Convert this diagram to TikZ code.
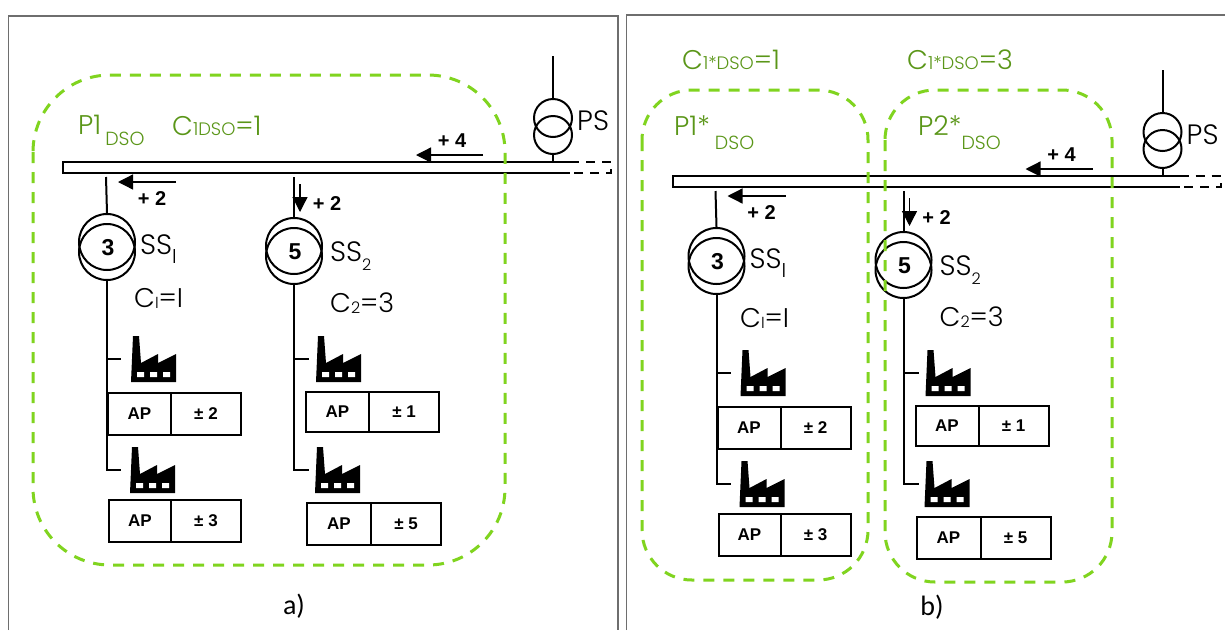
\documentclass[tikz,border=0pt]{standalone}
\usepackage{fontspec}
\setmainfont{Poppins}[UprightFont=* Light]
\newfontfamily\arialf{Liberation Sans}[BoldFont=* Bold]
\newfontfamily\calf{Carlito}
\usetikzlibrary{arrows.meta}
\definecolor{dsogreen}{HTML}{80D41F}
\definecolor{dsotext}{HTML}{5A9618}
\definecolor{framegray}{HTML}{6E6E6E}
\newcommand{\fs}[1]{\fontsize{#1}{#1}\selectfont}
\newcommand{\lowtxt}[3]{\raisebox{-#1pt}{\fs{#2}#3}}
\tikzset{
  x=1pt,y=-1pt,
  frameline/.style={draw=framegray,line width=1.2pt},
  region/.style={draw=dsogreen,line width=3pt,dash pattern=on 11pt off 9pt,rounded corners=#1},
  wire/.style={draw=black,line width=2pt},
  xfmr/.style={circle,draw=black,line width=2pt,minimum size=#1,inner sep=0pt},
  flow/.style={draw=black,line width=1.3pt,-{Triangle[length=15pt,width=15pt]}},
  boldlab/.style={font=\arialf\bfseries\fs{20},inner sep=0pt,text=black},
  numlab/.style={font=\arialf\bfseries\fs{23},inner sep=0pt,text=black},
  cell/.style={draw=black,line width=2pt,minimum height=#1,inner sep=0pt,font=\arialf\bfseries\fs{17}},
  blacklab/.style={font=\fs{28},inner sep=0pt,anchor=base west,text=black},
  clab/.style={font=\fs{27},inner sep=0pt,anchor=base west,text=black},
  greenlab/.style={font=\fs{27},inner sep=0pt,anchor=base west,text=dsotext},
  caption/.style={font=\calf\fs{28},inner sep=0pt,text=black},
}
% factory: #1 left x, #2 top y
\newcommand{\factory}[2]{%
  \begin{scope}[shift={(#1,#2)}]
    \fill[black] (0,46) -- (2,0) -- (8,0) -- (10,27) -- (27,18) -- (27,27) -- (45,18) -- (45,46) -- cycle;
    \fill[white] (6,36) rectangle (13,41) (19,36) rectangle (26,41) (32,36) rectangle (39,41);
  \end{scope}}
% cells: #1 name, #2 left, #3 divider, #4 right, #5 top, #6 bottom, #7 text
\newcommand{\apbox}[7]{%
  \pgfmathsetmacro{\wa}{#3-#2}\pgfmathsetmacro{\wb}{#4-#3}\pgfmathsetmacro{\hh}{#6-#5}
  \node[cell=\hh pt,minimum width=\wa pt,anchor=north west] (#1a) at (#2,#5) {AP};
  \node[cell=\hh pt,minimum width=\wb pt,anchor=north west] (#1b) at (#3,#5) {#7};}
% #1: position of the C1 label
\newcommand{\panelcore}[1]{%
  % bus
  \draw[wire] (570,162) -- (63,162) -- (63,173) -- (570,173);
  \draw[wire,dash pattern=on 9pt off 7pt] (570,162) -- (611,162) -- (611,173) -- (570,173);
  % PS
  \node[xfmr=38pt] (pst) at (553,118) {};
  \node[xfmr=38pt] (psb) at (553,135) {};
  \coordinate (psin) at (553,56);
  \coordinate (psbus) at (553,162);
  \draw[wire] (psin) -- (pst.north);
  \draw[wire] (psb.south) -- (psbus);
  \node[blacklab] (pslab) at (577,130) {PS};
  % flow +4
  \coordinate (f4a) at (483,155); \coordinate (f4b) at (416,155);
  \draw[flow] (f4a) -- (f4b);
  \node[boldlab] (f4l) at (452,141) {+ 4};
  % SS1
  \node[xfmr=56pt] (s1t) at (107,242) {};
  \node[xfmr=56pt] (s1b) at (107,252) {};
  \node[numlab] (s1n) at (108,248) {3};
  \coordinate (s1in) at (106,177);
  \coordinate (s1k) at (107,359);
  \coordinate (s1e) at (107,470);
  \coordinate (s1s1) at (121,359);
  \coordinate (s1s2) at (121,470);
  \draw[wire] (s1in) -- (s1t.north);
  \draw[wire] (s1b.south) -- (s1e) -- (s1s2);
  \draw[wire] (s1k) -- (s1s1);
  \coordinate (f1a) at (176,182); \coordinate (f1b) at (118,182);
  \draw[flow] (f1a) -- (f1b);
  \node[boldlab] (f1l) at (152,199) {+ 2};
  \node[blacklab] (s1lab) at (140,254) {SS\lowtxt{9}{20}{I}};
  \node[clab] (c1lab) at (#1) {C\lowtxt{1}{16}{I}=I};
  \factory{131}{336}
  \apbox{b1}{107}{170}{240}{392}{434}{± 2}
  \factory{130}{447}
  \apbox{b2}{108}{170}{240}{499}{541}{± 3}
  % SS2
  \node[xfmr=56pt] (s2t) at (294,246) {};
  \node[xfmr=56pt] (s2b) at (294,256) {};
  \node[numlab] (s2n) at (295,252) {5};
  \coordinate (s2in) at (294,177);
  \coordinate (s2k) at (294,359);
  \coordinate (s2e) at (294,470);
  \coordinate (s2s1) at (309,359);
  \coordinate (s2s2) at (309,470);
  \draw[wire] (s2in) -- (s2t.north);
  \draw[wire] (s2b.south) -- (s2e) -- (s2s2);
  \draw[wire] (s2k) -- (s2s1);
  \coordinate (f2a) at (300,184); \coordinate (f2b) at (300,212);
  \draw[flow] (f2a) -- (f2b);
  \node[boldlab] (f2l) at (327,204) {+ 2};
  \node[blacklab] (s2lab) at (330,261) {SS\lowtxt{9}{16}{2}};
  \node[clab] (c2lab) at (330,312) {C\lowtxt{1}{16}{2}=3};
  \factory{316}{336}
  \apbox{b3}{305}{368}{438}{391}{431}{± 1}
  \factory{315}{447}
  \apbox{b4}{306}{370}{440}{502}{544}{± 5}
}
\begin{document}
\begin{tikzpicture}
\useasboundingbox (0,0) rectangle (1225,630);
\fill[white] (0,0) rectangle (1225,630);
% frames
\draw[frameline] (8.5,630) -- (8.5,16) -- (618,16) -- (618,630);
\draw[frameline] (626.5,630) -- (626.5,15) -- (1225,15);
% panel a
\begin{scope}[name prefix=a-]
\panelcore{134,307}
\node[greenlab] (p) at (78,134) {P1\hspace{4pt}\lowtxt{11}{19}{DSO}};
\node[greenlab] (c) at (172,135) {C\lowtxt{0}{18}{1DSO}=1};
\end{scope}
\draw[region=77pt] (33,75) rectangle (505,565);
\node[caption] (capa) at (294,606) {a)};
% panel b
\begin{scope}[shift={(609.5,14)},name prefix=b-]
\panelcore{130.5,313}
\end{scope}
\node[greenlab] (p1) at (674,135) {P1*\hspace{5pt}\lowtxt{14}{19}{DSO}};
\node[greenlab] (p2) at (918,135) {P2*\lowtxt{14}{19}{DSO}};
\node[greenlab] (c1) at (682,69) {C\lowtxt{0}{18}{1*DSO}=1};
\node[greenlab] (c2) at (907,69) {C\lowtxt{0}{18}{1*DSO}=3};
\draw[region=50pt] (642,90) rectangle (868,580);
\draw[region=50pt] (885,90) rectangle (1112,582);
\node[caption] (capb) at (932,607) {b)};
\end{tikzpicture}
\end{document}
